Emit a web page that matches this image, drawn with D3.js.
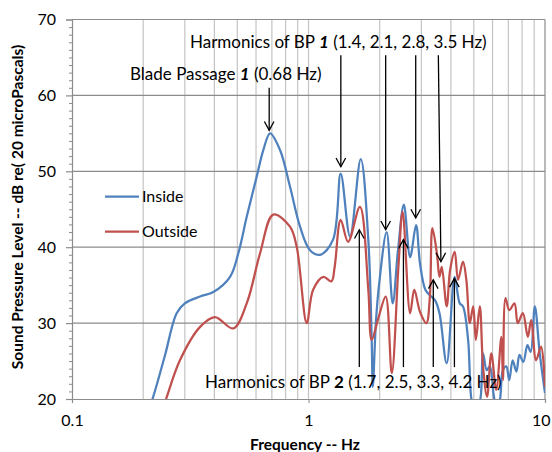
<!DOCTYPE html>
<html><head><meta charset="utf-8">
<script src="https://cdn.jsdelivr.net/npm/d3@7"></script>
<style>body{margin:0;background:#fff} svg{display:block} text{font-family:Lato,"Open Sans",sans-serif;fill:#000}</style>
</head><body><svg id="c" width="552" height="452"></svg>
<script>
// ---- data ----
const insideFreq = [0.205,0.219,0.247,0.277,0.30,0.348,0.396,0.466,0.505,0.548,0.604,0.644,0.688,0.758,0.835,0.921,1.015,1.119,1.27,1.368,1.498,1.663,1.79,1.85,1.87,1.93,1.99,2.14,2.27,2.39,2.53,2.69,2.85,2.96,3.12,3.28,3.43,3.58,3.84,4.15,4.36,4.5,4.73,4.89,5.05,5.3,5.47,5.67,5.84,6.07,6.25,6.45,6.64,6.86,7.06,7.3,7.57,7.8,8.1,8.43,8.7,9.06,9.5,10.0];
const insideDb   = [17.5,20.0,25.7,31.3,32.6,33.5,34.1,36.1,39.2,44.0,49.3,52.8,55.0,52.8,48.0,42.7,39.6,39.0,41.0,49.7,41.4,51.6,41.0,27.8,21.6,30.4,35.2,42.0,32.6,39.6,45.6,38.7,42.9,37.9,34.4,33.6,33.0,31.3,24.7,36.1,32.6,32.2,27.8,19.9,18.6,19.6,26.0,23.8,24.3,20.5,18.5,19.9,23.8,24.3,22.5,25.1,23.6,25.8,24.9,27.1,26.2,32.2,26.0,20.8];
const outsideFreq = [0.235,0.25,0.286,0.348,0.402,0.481,0.548,0.624,0.71,0.835,0.891,0.983,1.046,1.156,1.25,1.29,1.368,1.47,1.65,1.79,1.85,1.98,2.12,2.25,2.40,2.5,2.69,2.8,2.96,3.15,3.26,3.34,3.49,3.58,3.66,3.84,3.97,4.15,4.29,4.5,4.65,4.81,4.97,5.1,5.3,5.47,5.69,5.93,6.22,6.54,6.64,6.81,7.06,7.43,7.67,8.06,8.46,8.74,9.17,9.62,10.0];
const outsideDb   = [17.5,20.0,25.1,29.5,30.8,29.3,32.6,39.2,44.3,42.7,40.1,30.0,34.4,36.1,35.5,37.4,43.6,40.7,45.3,34.4,27.8,30.8,33.5,23.4,37.4,44.7,31.3,34.4,31.5,30.0,33.5,42.5,39.2,36.1,37.4,32.2,37.0,39.4,35.7,38.1,35.7,30.0,32.2,27.8,32.2,24.3,20.3,26.0,21.2,28.2,22.5,33.3,31.7,32.6,30.0,31.3,28.2,30.4,25.1,26.9,21.6];
const seriesNames = ["Inside","Outside"];
const seriesColors = ["#4F81BD","#C0504D"];
const yTicks = [20,30,40,50,60,70];
const xTickVals = [0.1,1,10];
const xTickLabels = ["0.1","1","10"];
const xTitle = "Frequency -- Hz";
const yTitle = "Sound Pressure Level -- dB re( 20 microPascals)";
// annotation arrows: [freqTail, dbTail, freqTip, dbTip]
const bladeArrow = [[0.682,61.0,0.682,55.4]];
const bp1Arrows = [[1.37,65.3,1.37,50.6],[2.12,65.3,2.12,42.3],[2.84,65.3,2.84,43.85],[3.54,65.3,3.63,38.1]];
const bp2Arrows = [[1.64,24.2,1.64,42.3],[2.52,24.2,2.52,41.0],[3.37,24.2,3.37,35.7],[4.14,24.2,4.14,35.9]];

// ---- layout ----
const L=72, R=545, T=19.5, B=399;
const svg = d3.select("#c");
const x = d3.scaleLog().domain([0.1,10]).range([L,R]);
const y = d3.scaleLinear().domain([20,70]).range([B,T]);

// gridlines
const minorX = [];
[0.1,1].forEach(d=>{for(let k=2;k<=9;k++) minorX.push(d*k);});
svg.append("g").selectAll("line").data(minorX.concat([1])).join("line")
  .attr("x1",d=>x(d)).attr("x2",d=>x(d)).attr("y1",T).attr("y2",B)
  .attr("stroke","#c4c4c4").attr("stroke-width",1.2);
svg.append("g").selectAll("line").data([30,40,50,60]).join("line")
  .attr("x1",L).attr("x2",R).attr("y1",d=>y(d)).attr("y2",d=>y(d))
  .attr("stroke","#8c8c8c").attr("stroke-width",1.2);
svg.append("line").attr("x1",L).attr("x2",R).attr("y1",y(70)).attr("y2",y(70)).attr("stroke","#8c8c8c").attr("stroke-width",1.2);
svg.append("line").attr("x1",R).attr("x2",R).attr("y1",T).attr("y2",B).attr("stroke","#8c8c8c").attr("stroke-width",1.2);

// y axis
const yAxis = svg.append("g").attr("transform",`translate(${L},0)`)
  .call(d3.axisLeft(y).tickValues(yTicks).tickSize(6).tickPadding(10).tickFormat(d3.format("d")));
yAxis.select(".domain").attr("stroke","#8c8c8c").attr("stroke-width",1.2);
yAxis.selectAll(".tick line").attr("stroke","#8c8c8c").attr("stroke-width",1.2);
yAxis.selectAll("text").attr("font-size",16).attr("font-family","Lato");
const yMinor = d3.range(20,71).filter(v=>v%10!==0);
svg.append("g").attr("transform",`translate(${L},0)`)
  .call(d3.axisLeft(y).tickValues(yMinor).tickSize(3).tickFormat(""))
  .call(g=>{g.select(".domain").remove(); g.selectAll("line").attr("stroke","#8c8c8c");});

// x axis
const xAxis = svg.append("g").attr("transform",`translate(0,${B})`)
  .call(d3.axisBottom(x).tickValues(xTickVals).tickSize(4).tickPadding(12).tickFormat((d,i)=>xTickLabels[i]));
xAxis.select(".domain").attr("stroke","#8c8c8c").attr("stroke-width",1.2);
xAxis.selectAll(".tick line").attr("stroke","#8c8c8c");
xAxis.selectAll("text").attr("font-size",16).attr("font-family","Lato");
xAxis.selectAll(".tick text").filter((d,i)=>i===2).attr("text-anchor","end").attr("dx","5");

// clip
svg.append("clipPath").attr("id","clip").append("rect").attr("x",L).attr("y",T).attr("width",R-L).attr("height",B-T);

const line = d3.line().x(d=>x(d[0])).y(d=>y(d[1])).curve(d3.curveCatmullRom.alpha(0.5));
const inside = insideFreq.map((f,i)=>[f,insideDb[i]]);
const outside = outsideFreq.map((f,i)=>[f,outsideDb[i]]);
const gLines = svg.append("g").attr("clip-path","url(#clip)");
gLines.append("path").datum(inside).attr("d",line).attr("fill","none").attr("stroke",seriesColors[0]).attr("stroke-width",2.25).attr("stroke-linejoin","round");
gLines.append("path").datum(outside).attr("d",line).attr("fill","none").attr("stroke",seriesColors[1]).attr("stroke-width",2.25).attr("stroke-linejoin","round");

// legend
const leg = svg.append("g");
seriesNames.forEach((n,i)=>{
  const ly = 196.7 + i*35;
  leg.append("line").attr("x1",105).attr("x2",139).attr("y1",ly).attr("y2",ly).attr("stroke",seriesColors[i]).attr("stroke-width",2.25);
  leg.append("text").attr("x",142).attr("y",ly).attr("dy","0.35em").attr("font-size",16).text(n);
});

// arrows
function drawArrow(a){
  const x1=x(a[0]), y1=y(a[1]), x2=x(a[2]), y2=y(a[3]);
  const g = svg.append("g").attr("stroke","#000").attr("stroke-width",1.3).attr("fill","none");
  g.append("line").attr("x1",x1).attr("y1",y1).attr("x2",x2).attr("y2",y2);
  const ang = Math.atan2(y2-y1,x2-x1), len=10, sp=0.5;
  const p1=[x2-len*Math.cos(ang-sp), y2-len*Math.sin(ang-sp)];
  const p2=[x2-len*Math.cos(ang+sp), y2-len*Math.sin(ang+sp)];
  g.append("polyline").attr("points",`${p1} ${x2},${y2} ${p2}`);
}
bladeArrow.concat(bp1Arrows, bp2Arrows).forEach(drawArrow);

// annotation texts
function annot(xp, yp, pre, bold, post, italic){
  const t = svg.append("text").attr("x",xp).attr("y",yp).attr("dy","0.35em").attr("font-size",17);
  t.append("tspan").text(pre);
  t.append("tspan").attr("font-weight","bold").attr("font-style",italic?"italic":"normal").text(bold);
  t.append("tspan").text(post);
}
annot(130, 74, "Blade Passage ", "1", " (0.68 Hz)", true);
annot(190, 41.7, "Harmonics of BP ", "1", " (1.4, 2.1, 2.8, 3.5 Hz)", true);
annot(205, 381.7, "Harmonics of BP ", "2", " (1.7, 2.5, 3.3, 4.2 Hz)", false);

// axis titles
svg.append("text").attr("x",305).attr("y",445).attr("dy","0.35em").attr("text-anchor","middle")
  .attr("font-size",15.5).attr("font-weight","bold").text(xTitle);
svg.append("text").attr("transform","translate(18,207) rotate(-90)").attr("dy","0.35em").attr("text-anchor","middle")
  .attr("font-size",15.5).attr("font-weight","bold").text(yTitle);
</script></body></html>
